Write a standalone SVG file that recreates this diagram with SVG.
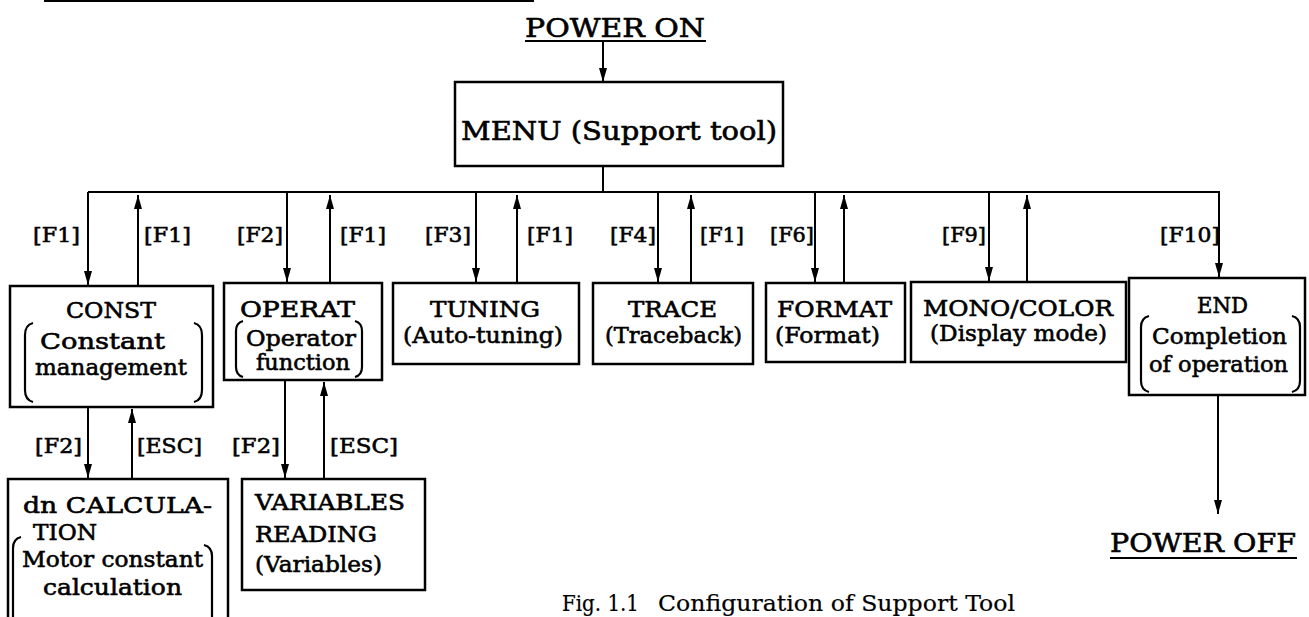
<svg xmlns="http://www.w3.org/2000/svg" width="1309" height="617" viewBox="0 0 1309 617">
<style>
text{font-family:"DejaVu Serif","Liberation Serif",serif;fill:#000;stroke:#000;stroke-width:0.6}
.t{font-size:23px}
.l{font-size:21px}
.big{font-size:26px}
.cap{font-size:23px;stroke-width:0.2}
.box{fill:#fff;stroke:#000;stroke-width:2.5}
.ln{fill:none;stroke:#000;stroke-width:2}
.par{fill:none;stroke:#000;stroke-width:2.2}
.arr{fill:none;stroke:#000;stroke-width:2;marker-end:url(#ah)}
</style>
<defs>
<marker id="ah" viewBox="0 0 14 8" refX="14" refY="4" markerWidth="14" markerHeight="8" markerUnits="userSpaceOnUse" orient="auto">
<path d="M0,0 L14,4 L0,8 Z" fill="#000"/>
</marker>
</defs>
<rect width="1309" height="617" fill="#fff"/>
<line x1="44" y1="1" x2="534" y2="1" stroke="#000" stroke-width="2"/>

<g id="power-on">
<text class="big" x="525" y="37" textLength="180" lengthAdjust="spacingAndGlyphs">POWER ON</text>
<line x1="525" y1="41" x2="706" y2="41" stroke="#000" stroke-width="2"/>
</g>

<g id="menu">
<rect class="box" x="455" y="82" width="328" height="84"/>
<text class="big" x="461" y="140" textLength="316" lengthAdjust="spacingAndGlyphs">MENU (Support tool)</text>
</g>

<g id="connectors">
<line class="arr" x1="603" y1="42" x2="603" y2="82"/>
<polyline class="ln" points="603,166 603,192"/>
<line class="ln" x1="88" y1="192" x2="1220" y2="192"/>
<line class="arr" x1="88" y1="192" x2="88" y2="285"/>
<line class="arr" x1="138" y1="286" x2="138" y2="195"/>
<line class="arr" x1="287" y1="192" x2="287" y2="282"/>
<line class="arr" x1="330" y1="283" x2="330" y2="195"/>
<line class="arr" x1="476" y1="192" x2="476" y2="282"/>
<line class="arr" x1="517" y1="283" x2="517" y2="195"/>
<line class="arr" x1="658" y1="192" x2="658" y2="282"/>
<line class="arr" x1="691" y1="283" x2="691" y2="195"/>
<line class="arr" x1="815" y1="192" x2="815" y2="282"/>
<line class="arr" x1="844" y1="283" x2="844" y2="195"/>
<line class="arr" x1="989" y1="192" x2="989" y2="281"/>
<line class="arr" x1="1027" y1="282" x2="1027" y2="195"/>
<line class="arr" x1="1219" y1="192" x2="1219" y2="277"/>
<line class="arr" x1="88" y1="407" x2="88" y2="478"/>
<line class="arr" x1="132" y1="479" x2="132" y2="409"/>
<line class="arr" x1="285" y1="380" x2="285" y2="478"/>
<line class="arr" x1="324" y1="479" x2="324" y2="382"/>
<line class="arr" x1="1218" y1="395" x2="1218" y2="514"/>
</g>

<g id="labels">
<text class="l" x="33" y="242" textLength="47" lengthAdjust="spacingAndGlyphs">[F1]</text>
<text class="l" x="144" y="242" textLength="47" lengthAdjust="spacingAndGlyphs">[F1]</text>
<text class="l" x="237" y="242" textLength="46" lengthAdjust="spacingAndGlyphs">[F2]</text>
<text class="l" x="340" y="242" textLength="46" lengthAdjust="spacingAndGlyphs">[F1]</text>
<text class="l" x="425" y="242" textLength="46" lengthAdjust="spacingAndGlyphs">[F3]</text>
<text class="l" x="527" y="242" textLength="46" lengthAdjust="spacingAndGlyphs">[F1]</text>
<text class="l" x="610" y="242" textLength="46" lengthAdjust="spacingAndGlyphs">[F4]</text>
<text class="l" x="700" y="242" textLength="44" lengthAdjust="spacingAndGlyphs">[F1]</text>
<text class="l" x="770" y="242" textLength="44" lengthAdjust="spacingAndGlyphs">[F6]</text>
<text class="l" x="942" y="242" textLength="44" lengthAdjust="spacingAndGlyphs">[F9]</text>
<text class="l" x="1160" y="242" textLength="60" lengthAdjust="spacingAndGlyphs">[F10]</text>
<text class="l" x="35" y="453" textLength="47" lengthAdjust="spacingAndGlyphs">[F2]</text>
<text class="l" x="137" y="453" textLength="65" lengthAdjust="spacingAndGlyphs">[ESC]</text>
<text class="l" x="232" y="453" textLength="48" lengthAdjust="spacingAndGlyphs">[F2]</text>
<text class="l" x="330" y="453" textLength="68" lengthAdjust="spacingAndGlyphs">[ESC]</text>
</g>

<g id="const">
<rect class="box" x="10" y="286" width="203" height="121"/>
<text class="t" x="66" y="318" textLength="90" lengthAdjust="spacingAndGlyphs">CONST</text>
<text class="t" x="40" y="349" textLength="125" lengthAdjust="spacingAndGlyphs">Constant</text>
<text class="t" x="35" y="375" textLength="152" lengthAdjust="spacingAndGlyphs">management</text>
<path class="par" d="M33,323 Q25,325 25,335 L25,390 Q25,400 33,402"/>
<path class="par" d="M194,323 Q202,325 202,335 L202,390 Q202,400 194,402"/>
</g>

<g id="operat">
<rect class="box" x="224" y="283" width="158" height="97"/>
<text class="t" x="240" y="317" textLength="115" lengthAdjust="spacingAndGlyphs">OPERAT</text>
<text class="t" x="246" y="346" textLength="110" lengthAdjust="spacingAndGlyphs">Operator</text>
<text class="t" x="256" y="370" textLength="94" lengthAdjust="spacingAndGlyphs">function</text>
<path class="par" d="M243,321 Q236,323 236,331 L236,367 Q236,375 243,377"/>
<path class="par" d="M355,321 Q362,323 362,331 L362,367 Q362,375 355,377"/>
</g>

<g id="tuning">
<rect class="box" x="393" y="283" width="186" height="81"/>
<text class="t" x="430" y="317" textLength="110" lengthAdjust="spacingAndGlyphs">TUNING</text>
<text class="t" x="403" y="343" textLength="160" lengthAdjust="spacingAndGlyphs">(Auto-tuning)</text>
</g>

<g id="trace">
<rect class="box" x="593" y="283" width="160" height="81"/>
<text class="t" x="628" y="317" textLength="89" lengthAdjust="spacingAndGlyphs">TRACE</text>
<text class="t" x="605" y="343" textLength="137" lengthAdjust="spacingAndGlyphs">(Traceback)</text>
</g>

<g id="format">
<rect class="box" x="766" y="283" width="139" height="79"/>
<text class="t" x="777" y="317" textLength="115" lengthAdjust="spacingAndGlyphs">FORMAT</text>
<text class="t" x="775" y="343" textLength="105" lengthAdjust="spacingAndGlyphs">(Format)</text>
</g>

<g id="mono-color">
<rect class="box" x="911" y="282" width="215" height="80"/>
<text class="t" x="923" y="316" textLength="190" lengthAdjust="spacingAndGlyphs">MONO/COLOR</text>
<text class="t" x="930" y="341" textLength="177" lengthAdjust="spacingAndGlyphs">(Display mode)</text>
</g>

<g id="end">
<rect class="box" x="1129" y="278" width="176" height="117"/>
<text class="t" x="1197" y="313" textLength="51" lengthAdjust="spacingAndGlyphs">END</text>
<text class="t" x="1152" y="344" textLength="135" lengthAdjust="spacingAndGlyphs">Completion</text>
<text class="t" x="1149" y="372" textLength="139" lengthAdjust="spacingAndGlyphs">of operation</text>
<path class="par" d="M1149,316 Q1141,318 1141,327 L1141,381 Q1141,390 1149,392"/>
<path class="par" d="M1292,316 Q1300,318 1300,327 L1300,381 Q1300,390 1292,392"/>
</g>

<g id="dn-calculation">
<rect class="box" x="8" y="479" width="220" height="150"/>
<text class="t" x="23" y="513" textLength="189" lengthAdjust="spacingAndGlyphs">dn CALCULA-</text>
<text class="t" x="33" y="540" textLength="64" lengthAdjust="spacingAndGlyphs">TION</text>
<text class="t" x="22" y="567" textLength="181" lengthAdjust="spacingAndGlyphs">Motor constant</text>
<text class="t" x="43" y="595" textLength="139" lengthAdjust="spacingAndGlyphs">calculation</text>
<path class="par" d="M21,537 Q13,539 13,548 L13,620"/>
<path class="par" d="M204,545 Q212,547 212,556 L212,620"/>
</g>

<g id="variables-reading">
<rect class="box" x="242" y="479" width="183" height="111"/>
<text class="t" x="255" y="510" textLength="150" lengthAdjust="spacingAndGlyphs">VARIABLES</text>
<text class="t" x="255" y="542" textLength="122" lengthAdjust="spacingAndGlyphs">READING</text>
<text class="t" x="255" y="572" textLength="127" lengthAdjust="spacingAndGlyphs">(Variables)</text>
</g>

<g id="power-off">
<text class="big" x="1110" y="552" textLength="186" lengthAdjust="spacingAndGlyphs">POWER OFF</text>
<line x1="1110" y1="558" x2="1297" y2="558" stroke="#000" stroke-width="2"/>
</g>

<g id="caption">
<text class="cap" x="562" y="611" textLength="77" lengthAdjust="spacingAndGlyphs">Fig. 1.1</text>
<text class="cap" x="658" y="611" textLength="357" lengthAdjust="spacingAndGlyphs">Configuration of Support Tool</text>
</g>
</svg>
